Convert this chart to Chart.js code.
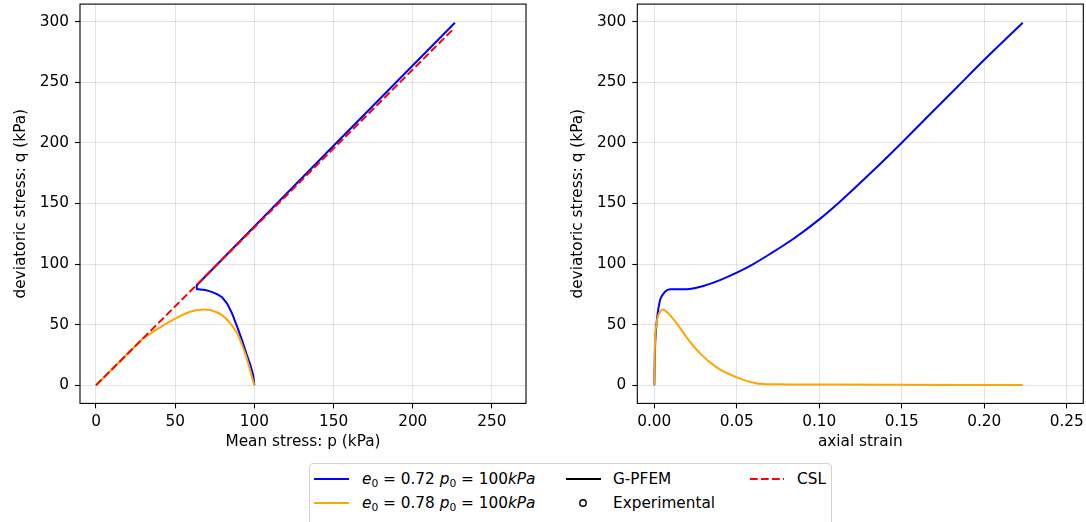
<!DOCTYPE html>
<html>
<head>
<meta charset="utf-8">
<script src="https://cdn.jsdelivr.net/npm/chart.js@4.4.1/dist/chart.umd.min.js"></script>
<style>
  body { margin: 0; background: #fff; font-family: "DejaVu Sans", sans-serif; }
  #fig { position: relative; width: 1086px; height: 522px; overflow: hidden; background: #fff; }
  #fig canvas { position: absolute; top: 0; }
  #leyenda {
    position: absolute; left: 309px; top: 463px; width: 521px; height: 70px;
    border: 1px solid #d4d4d4; border-radius: 4px; background: #fff;
    font-size: 15.3px; color: #000;
  }
  #leyenda svg { position: absolute; }
  #leyenda span { position: absolute; line-height: 18px; white-space: nowrap; }
  #leyenda sub { font-size: 70%; vertical-align: -0.3em; line-height: 0; }
</style>
</head>
<body>
<div id="fig">
  <canvas id="graficoPQ" width="545" height="455" style="left:0px"></canvas>
  <canvas id="graficoDef" width="541" height="455" style="left:545px"></canvas>
  <div id="leyenda">
    <svg style="left:4px;top:6px" width="35" height="18"><line x1="0" y1="9" x2="35" y2="9" stroke="#0000ff" stroke-width="2"/></svg>
    <span style="left:52px;top:6px"><i>e</i><sub>0</sub> = 0.72 <i>p</i><sub>0</sub> = 100<i>kPa</i></span>
    <svg style="left:4px;top:30px" width="35" height="18"><line x1="0" y1="9" x2="35" y2="9" stroke="#ffa500" stroke-width="2"/></svg>
    <span style="left:52px;top:30px"><i>e</i><sub>0</sub> = 0.78 <i>p</i><sub>0</sub> = 100<i>kPa</i></span>
    <svg style="left:256px;top:6px" width="35" height="18"><line x1="0" y1="9" x2="35" y2="9" stroke="#000" stroke-width="2"/></svg>
    <span style="left:303px;top:6px">G-PFEM</span>
    <svg style="left:265px;top:30px" width="16" height="18"><circle cx="8" cy="9" r="3.2" fill="none" stroke="#000" stroke-width="1.4"/></svg>
    <span style="left:303px;top:30px">Experimental</span>
    <svg style="left:440px;top:6px" width="34" height="18"><line x1="0" y1="9" x2="34" y2="9" stroke="#ff0000" stroke-width="2" stroke-dasharray="7.7 3.3"/></svg>
    <span style="left:487px;top:6px">CSL</span>
  </div>
</div>
<script>
// Trayectoria p-q
const pBlue = [100, 99.2, 97.5, 94.9, 92.2, 89.1, 85.9, 82.7, 79.6, 77.0, 74.2, 71.5, 69.0, 66.0, 63.2, 63.6, 150, 226.6];
const qBlue = [0, 8.4, 16.7, 26.3, 37.3, 48.3, 59.3, 67.6, 72.6, 74.8, 76.4, 77.7, 78.6, 79.0, 79.4, 82.5, 197.7, 299.2];
const pOrange = [100, 98.7, 97.0, 94.9, 92.2, 89.1, 84.8, 79.6, 74.2, 71.0, 67.9, 63.7, 59.5, 53.2, 50.0, 45.3, 40.5, 35.2, 29.9, 24.7, 19.4, 14.6, 9.7, 4.8, 0];
const qOrange = [0, 5.7, 13.9, 23.5, 33.2, 42.8, 51.1, 57.9, 61.2, 62.3, 62.6, 61.9, 60.7, 57.1, 55.0, 51.6, 47.8, 43.4, 38.7, 32.2, 25.3, 19.0, 12.6, 6.3, 0];
const pCSL = [0, 226.1];
const qCSL = [0, 294.6];

// Curvas q - deformación axial
const strainBlue = [0, 0.0004, 0.0010, 0.0018, 0.0035, 0.0050, 0.0065, 0.0095, 0.0150, 0.0196, 0.0250, 0.0297, 0.0398, 0.05, 0.06, 0.0701, 0.0850, 0.100, 0.1125, 0.1327, 0.150, 0.165, 0.1833, 0.200, 0.2233];
const qStrainBlue = [0, 29, 45, 56.5, 70.3, 74.5, 77.2, 79.2, 79.3, 79.2, 80.3, 81.9, 86.8, 92.9, 100, 108.3, 121.5, 136.9, 151.5, 177.2, 200.2, 220.8, 245.8, 268.6, 299.2];
const strainOrange = [0, 0.0003, 0.0014, 0.003, 0.0051, 0.0085, 0.0136, 0.0196, 0.0277, 0.0378, 0.05, 0.06, 0.066, 0.08, 0.1, 0.15, 0.2233];
const qStrainOrange = [0, 29, 51, 59.3, 62.6, 59.3, 51, 39.5, 26.3, 14.8, 6.5, 2.1, 1, 0.7, 0.5, 0.3, 0.2];

// Ticks
const ticksQ = [0, 50, 100, 150, 200, 250, 300];
const ticksP = [0, 50, 100, 150, 200, 250];
const ticksStrain = [0, 0.05, 0.10, 0.15, 0.20, 0.25];

const FONT = { family: '"DejaVu Sans", sans-serif', size: 15.3 };
const GRID = 'rgba(176,176,176,0.45)';

function pares(xs, ys) {
  return xs.map((x, i) => ({ x: x, y: ys[i] }));
}

function serie(xs, ys, color, order, extra) {
  return Object.assign({
    data: pares(xs, ys),
    showLine: true,
    borderColor: color,
    backgroundColor: color,
    borderWidth: 2,
    pointRadius: 0,
    tension: 0,
    order: order
  }, extra || {});
}

// caja negra completa alrededor del area de dibujo
const marco = {
  id: 'marco',
  afterDraw(chart) {
    const { ctx, chartArea: a } = chart;
    ctx.save();
    ctx.strokeStyle = '#000';
    ctx.lineWidth = 1.1;
    ctx.strokeRect(a.left, a.top, a.right - a.left, a.bottom - a.top);
    ctx.restore();
  }
};

function crearGrafico(id, datasets, cfg) {
  const ctx = document.getElementById(id).getContext('2d');
  return new Chart(ctx, {
    type: 'scatter',
    data: { datasets: datasets },
    options: {
      responsive: false,
      animation: false,
      events: [],
      layout: { padding: { left: 0, right: cfg.rightPad, top: 4.1, bottom: 0 } },
      plugins: { legend: { display: false }, tooltip: { enabled: false } },
      scales: {
        x: {
          type: 'linear',
          min: cfg.xMin,
          max: cfg.xMax,
          afterBuildTicks: s => { s.ticks = cfg.xTicks.map(v => ({ value: v })); },
          afterFit: s => { s.height = 51.6; s.paddingLeft = 0; s.paddingRight = 0; },
          ticks: { font: FONT, color: '#000', padding: 4, maxRotation: 0, autoSkip: false,
                   callback: v => v.toFixed(cfg.decimals) },
          grid: { color: GRID, lineWidth: 0.8, tickColor: '#000', tickLength: 5, tickWidth: 1.1 },
          border: { display: false },
          title: { display: true, text: cfg.xTitle, font: FONT, color: '#000', padding: { top: 0, bottom: 4.1 } }
        },
        y: {
          type: 'linear',
          min: -15,
          max: 314.6,
          afterBuildTicks: s => { s.ticks = ticksQ.map(v => ({ value: v })); },
          afterFit: s => { s.width = cfg.yWidth; s.paddingTop = 0; s.paddingBottom = 0; },
          ticks: { font: FONT, color: '#000', padding: 6, autoSkip: false, callback: v => v },
          grid: { color: GRID, lineWidth: 0.8, tickColor: '#000', tickLength: 5, tickWidth: 1.1 },
          border: { display: false },
          title: { display: true, text: 'deviatoric stress: q (kPa)', font: FONT, color: '#000',
                   padding: { top: cfg.yTitlePad, bottom: 0 } }
        }
      }
    },
    plugins: [marco]
  });
}

crearGrafico('graficoPQ', [
  serie(pCSL, qCSL, '#ff0000', 0, { borderDash: [7.7, 3.3] }),
  serie(pOrange, qOrange, '#ffa500', 1, { cubicInterpolationMode: 'monotone' }),
  serie(pBlue, qBlue, '#0000ff', 2)
], {
  xMin: -10.1, xMax: 271.5, xTicks: ticksP, decimals: 0,
  xTitle: 'Mean stress: p (kPa)', yWidth: 80, rightPad: 19, yTitlePad: 11.8
});

crearGrafico('graficoDef', [
  serie(strainOrange, qStrainOrange, '#ffa500', 1, { cubicInterpolationMode: 'monotone' }),
  serie(strainBlue, qStrainBlue, '#0000ff', 2, { cubicInterpolationMode: 'monotone' })
], {
  xMin: -0.0103, xMax: 0.26, xTicks: ticksStrain, decimals: 2,
  xTitle: 'axial strain', yWidth: 92.3, rightPad: 2.7, yTitlePad: 23.8
});
</script>
</body>
</html>
